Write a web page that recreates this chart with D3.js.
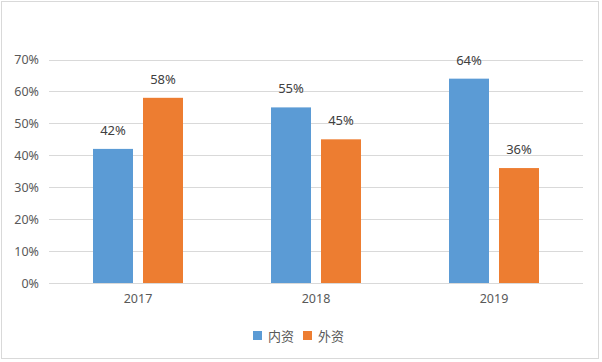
<!DOCTYPE html>
<html>
<head>
<meta charset="utf-8">
<script src="https://cdn.jsdelivr.net/npm/d3@7"></script>
<style>
  body { margin: 0; background: #fff; }
  svg { display: block; }
</style>
</head>
<body>
<svg id="chart" width="602" height="362"></svg>
<script>
var years = ["2017", "2018", "2019"];
var series_names = ["内资", "外资"];
var domestic = [0.42, 0.55, 0.64];
var foreign = [0.58, 0.45, 0.36];
var y_ticks = [0, 0.1, 0.2, 0.3, 0.4, 0.5, 0.6, 0.7];
var colors = ["#5b9bd5", "#ed7d31"];

var svg = d3.select("#chart");
var font = "'Noto Sans', 'Noto Sans CJK SC', sans-serif";

// outer border
svg.append("rect")
    .attr("x", 1.5).attr("y", 1.5)
    .attr("width", 597).attr("height", 357)
    .style("fill", "#fff")
    .style("stroke", "#d9d9d9")
    .style("stroke-width", 1);

var x = d3.scaleBand().domain(years).range([49, 583]);
var y = d3.scaleLinear().domain([0, 0.7]).range([283, 59.5]);
var x_inner = d3.scaleBand().domain(series_names).range([x.bandwidth() / 2 - 45, x.bandwidth() / 2 + 45]).paddingInner(0.2);

// gridlines
svg.selectAll("line.grid")
    .data(y_ticks)
    .enter()
    .append("line")
    .attr("class", "grid")
    .attr("x1", 49)
    .attr("x2", 583)
    .attr("y1", d => Math.round(y(d)) + 0.5)
    .attr("y2", d => Math.round(y(d)) + 0.5)
    .style("stroke", "#d9d9d9")
    .style("stroke-width", 1);

var y_axis = d3.axisLeft(y).tickValues(y_ticks).tickFormat(d3.format(".0%")).tickSize(0).tickPadding(10);
var gy = svg.append("g").attr("transform", "translate(49,0)").call(y_axis);
gy.select(".domain").remove();
gy.selectAll("text")
    .attr("font-size", "12.5px")
    .attr("font-family", font)
    .style("fill", "#595959");

var x_axis = d3.axisBottom(x).tickSize(0).tickPadding(11);
var gx = svg.append("g").attr("transform", "translate(0,283)").call(x_axis);
gx.select(".domain").remove();
gx.selectAll("text")
    .attr("font-size", "12.5px")
    .attr("font-family", font)
    .style("fill", "#595959");

var rows = [];
years.forEach((yr, i) => {
    rows.push({year: yr, name: series_names[0], value: domestic[i], color: colors[0]});
    rows.push({year: yr, name: series_names[1], value: foreign[i], color: colors[1]});
});

svg.selectAll("rect.bar")
    .data(rows)
    .enter()
    .append("rect")
    .attr("class", "bar")
    .attr("x", d => x(d.year) + x_inner(d.name))
    .attr("width", x_inner.bandwidth())
    .attr("y", d => y(d.value))
    .attr("height", d => y(0) - y(d.value))
    .style("fill", d => d.color);

svg.selectAll("text.label")
    .data(rows)
    .enter()
    .append("text")
    .attr("class", "label")
    .attr("x", d => x(d.year) + x_inner(d.name) + x_inner.bandwidth() / 2)
    .attr("y", d => y(d.value) - 14)
    .attr("text-anchor", "middle")
    .attr("font-size", "13px")
    .attr("font-family", font)
    .style("fill", "#404040")
    .text(d => d3.format(".0%")(d.value));

// legend
var legend = svg.append("g").attr("transform", "translate(253,336)");
var items = legend.selectAll("g.item")
    .data(series_names)
    .enter()
    .append("g")
    .attr("class", "item")
    .attr("transform", (d, i) => "translate(" + (i * 50) + ",0)");
items.append("rect")
    .attr("x", 0).attr("y", -5)
    .attr("width", 9).attr("height", 9)
    .style("fill", (d, i) => colors[i]);
items.append("text")
    .attr("x", 15)
    .attr("y", 0)
    .attr("dy", "0.35em")
    .attr("font-size", "13px")
    .attr("font-family", font)
    .style("fill", "#595959")
    .text(d => d);
</script>
</body>
</html>
